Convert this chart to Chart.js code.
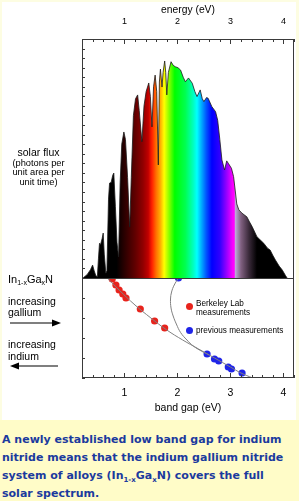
<!DOCTYPE html>
<html>
<head>
<meta charset="utf-8">
<script src="https://cdn.jsdelivr.net/npm/chart.js@4.4.1/dist/chart.umd.min.js"></script>
<style>
  html, body { margin: 0; padding: 0; }
  body {
    width: 299px; height: 501px; position: relative; overflow: hidden;
    background: #fdfde2;
    font-family: "Liberation Sans", Arial, sans-serif; color: #000;
  }
  #panel { position: absolute; left: 2px; top: 2px; width: 294px; height: 418px; background: #fff; }
  #chartBox { position: absolute; left: 0; top: 0; width: 299px; height: 422px; }
  .lbl { position: absolute; white-space: nowrap; }
  #flux { left: 0; top: 148px; width: 77px; text-align: center; font-size: 9.3px; line-height: 9.7px; }
  #flux .big { font-size: 10.5px; }
  #alloy { left: 8px; top: 272px; font-size: 11px; line-height: 14px; }
  #alloy sub { font-size: 7px; vertical-align: -2px; }
  #gallium { left: 8px; top: 296px; font-size: 10.5px; line-height: 11px; }
  #indium { left: 8px; top: 339px; font-size: 10.5px; line-height: 11.5px; }
  .arrow { position: absolute; }
  .dot { position: absolute; width: 7px; height: 7px; border-radius: 50%; }
  .legendText { position: absolute; font-size: 8.2px; line-height: 9px; white-space: nowrap; }
  #caption {
    position: absolute; left: 0; top: 420px; width: 299px; height: 81px; background: #fffcc8;
  }
  #captionText {
    position: absolute; left: 2px; top: 11px; white-space: nowrap;
    font-family: "DejaVu Sans", Verdana, sans-serif; font-weight: bold; font-size: 11px;
    line-height: 18px; color: #1b3a9e;
  }
  #captionText sub { font-size: 7px; vertical-align: -3px; line-height: 0; }
</style>
</head>
<body>
<div id="panel"></div>
<div id="chartBox"><canvas id="bandGapChart"></canvas></div>

<div class="lbl" id="flux"><span class="big">solar flux</span><br>(photons per<br>unit area per<br>unit time)</div>
<div class="lbl" id="alloy">In<sub>1-x</sub>Ga<sub>x</sub>N</div>
<div class="lbl" id="gallium">increasing<br>gallium</div>
<div class="lbl" id="indium">increasing<br>indium</div>
<svg class="arrow" style="left:8px;top:318px" width="56" height="10">
  <line x1="2" y1="5" x2="46" y2="5" stroke="#000" stroke-width="1.2"/>
  <polygon points="44,1.5 53,5 44,8.5" fill="#000"/>
</svg>
<svg class="arrow" style="left:8px;top:361px" width="56" height="10">
  <line x1="10" y1="5" x2="50" y2="5" stroke="#000" stroke-width="1.2"/>
  <polygon points="11,1.5 2,5 11,8.5" fill="#000"/>
</svg>

<div class="dot" style="left:185.5px;top:303px;background:#e8231c"></div>
<div class="legendText" style="left:196px;top:299px">Berkeley Lab<br>measurements</div>
<div class="dot" style="left:185.5px;top:327px;background:#1f24e8"></div>
<div class="legendText" style="left:196px;top:326px">previous measurements</div>

<div id="caption">
  <div id="captionText">A newly established low band gap for indium<br>nitride means that the indium gallium nitride<br>system of alloys (In<sub>1-x</sub>Ga<sub>x</sub>N) covers the full<br>solar spectrum.</div>
</div>

<script>
// ---- data ----
const spectrumEnergy = [0.22, 0.30, 0.36, 0.40, 0.43, 0.46, 0.49, 0.51, 0.53, 0.55, 0.58, 0.60, 0.62, 0.65,
  0.67, 0.70, 0.72, 0.75, 0.78, 0.80, 0.83, 0.86, 0.89, 0.92, 0.95, 0.99, 1.02, 1.06, 1.10, 1.13, 1.17,
  1.21, 1.25, 1.28, 1.33, 1.37, 1.41, 1.46, 1.49, 1.52, 1.55, 1.58, 1.61, 1.64, 1.66, 1.68, 1.71, 1.73,
  1.76, 1.78, 1.80, 1.83, 1.88, 1.92, 1.96, 2.01, 2.06, 2.11, 2.15, 2.21, 2.28, 2.33, 2.37, 2.43, 2.47,
  2.50, 2.55, 2.58, 2.65, 2.72, 2.76, 2.80, 2.84, 2.89, 2.93, 2.96, 3.02, 3.06, 3.09, 3.12, 3.16, 3.22,
  3.31, 3.36, 3.41, 3.50, 3.56, 3.63, 3.70, 3.75, 3.80, 3.85, 3.92, 3.98, 4.04, 4.07];
const spectrumFlux = [0, 1.5, 3.5, 5.4, 3, 1, 0.5, 8, 14.5, 14, 16.5, 18.8, 10, 2,
  3, 33, 39.7, 40, 43, 43.9, 30, 15, 8.8, 40, 56, 61.1, 58, 42, 21.3, 42, 68,
  75, 76.6, 70, 57, 72, 78, 81.6, 76, 63.2, 80, 84.9, 78, 47.3, 82, 87.4, 79.9, 86,
  90.8, 86, 76.6, 86, 90.5, 89, 88.4, 88, 87, 84, 82.1, 83.7, 81.5, 78, 75.9, 78.7, 75,
  73.8, 75.5, 75.2, 71.7, 69.6, 66, 58, 49.4, 45.2, 49, 48, 45.9, 42.4, 36.8, 31, 28.5, 27.1,
  25.6, 23.5, 21.5, 17.3, 16, 14.5, 12.5, 11.7, 9.5, 7.5, 5, 3.3, 1, 0];

// lower panel: band gap (eV) vs. position along the In(1-x)Ga(x)N series (0 = top)
const berkeleyGap = [0.77, 0.84, 0.90, 0.97, 1.03, 1.30, 1.57, 1.76];
const berkeleyPos = [0.01, 0.07, 0.12, 0.16, 0.20, 0.31, 0.43, 0.50];
const previousGap = [2.02, 2.56, 2.70, 2.78, 2.96, 3.02, 3.22];
const previousPos = [0.0, 0.76, 0.81, 0.83, 0.89, 0.91, 0.95];
const fitGap = [0.68, 0.90, 1.20, 1.50, 1.80, 2.10, 2.40, 2.70, 3.00, 3.20, 3.42];
const fitPos = [0, 0.12, 0.27, 0.40, 0.52, 0.62, 0.71, 0.80, 0.89, 0.95, 1.0];
const oldFitGap = [2.02, 1.94, 1.89, 1.87, 1.88, 1.92, 1.98, 2.06, 2.18, 2.30, 2.45, 2.60];
const oldFitPos = [0.0, 0.07, 0.14, 0.21, 0.30, 0.38, 0.46, 0.545, 0.62, 0.68, 0.73, 0.77];

const tickLabels = [1, 2, 3, 4];

// colour of the light across the energy axis
const spectrumStops = [
  [0.2, '#000000'], [0.85, '#000000'], [1.0, '#2a0000'], [1.2, '#600000'], [1.35, '#900000'],
  [1.45, '#c00000'], [1.52, '#ff2000'], [1.6, '#ff7000'], [1.68, '#ffb000'], [1.75, '#ffff00'],
  [1.85, '#80ff00'], [1.95, '#00ff00'], [2.15, '#00ff50'], [2.3, '#00ffc0'], [2.37, '#00ffff'],
  [2.45, '#00b0ff'], [2.55, '#0050ff'], [2.65, '#0000ff'], [2.8, '#3000ff'], [2.92, '#9000ff'],
  [3.05, '#ff00ff'], [3.075, '#ff00ff'], [3.085, '#c0b0e0'], [3.2, '#806080'], [3.35, '#3a2a3a'],
  [3.5, '#000000'], [4.2, '#000000']
];

const toPoints = (xs, ys) => xs.map((x, i) => ({ x, y: ys[i] }));

const isMajor = v => tickLabels.some(t => Math.abs(v - t) < 1e-6);
const tickText = v => {
  const t = tickLabels.find(t => Math.abs(v - t) < 1e-6);
  return t === undefined ? '' : String(t);
};

// frame, divider and inward tick marks
const frameTicks = {
  id: 'frameTicks',
  afterDatasetsDraw(chart) {
    const { ctx, chartArea, scales } = chart;
    const { left, right, top, bottom } = chartArea;
    ctx.save();
    ctx.strokeStyle = '#3a3a3a';
    ctx.lineWidth = 1;
    ctx.strokeRect(Math.round(left) + 0.5, Math.round(top) + 0.5,
      Math.round(right - left) - 1, Math.round(bottom - top) - 1);
    const yDiv = Math.round(scales.y.bottom) + 0.5;
    ctx.beginPath();
    ctx.moveTo(left, yDiv);
    ctx.lineTo(right, yDiv);
    scales.x.ticks.forEach(t => {
      const px = Math.round(scales.x.getPixelForValue(t.value)) + 0.5;
      const len = isMajor(t.value) ? 5 : 3;
      ctx.moveTo(px, bottom);
      ctx.lineTo(px, bottom - len);
    });
    scales.x2.ticks.forEach(t => {
      const px = Math.round(scales.x2.getPixelForValue(t.value)) + 0.5;
      const len = isMajor(t.value) ? 5 : 3;
      ctx.moveTo(px, top);
      ctx.lineTo(px, top + len);
    });
    [scales.y, scales.y2].forEach(s => {
      s.ticks.forEach(t => {
        const py = Math.round(s.getPixelForValue(t.value)) + 0.5;
        ctx.moveTo(left, py);
        ctx.lineTo(left + 3, py);
      });
    });
    ctx.stroke();
    ctx.restore();
  }
};

Chart.defaults.font.family = '"Liberation Sans", Arial, sans-serif';
Chart.defaults.color = '#000';

new Chart(document.getElementById('bandGapChart'), {
  type: 'line',
  data: {
    datasets: [
      {
        label: 'solar flux',
        data: toPoints(spectrumEnergy, spectrumFlux),
        xAxisID: 'x', yAxisID: 'y',
        fill: 'origin',
        borderColor: '#1a1a1a',
        borderWidth: 0.8,
        pointRadius: 0,
        tension: 0,
        clip: 0,
        backgroundColor(context) {
          const { chart } = context;
          const { ctx, chartArea, scales } = chart;
          if (!chartArea) return '#000';
          const xs = scales.x;
          const g = ctx.createLinearGradient(xs.left, 0, xs.right, 0);
          spectrumStops.forEach(([e, c]) => {
            const f = (xs.getPixelForValue(e) - xs.left) / (xs.right - xs.left);
            g.addColorStop(Math.min(1, Math.max(0, f)), c);
          });
          return g;
        }
      },
      {
        label: 'fit',
        data: toPoints(fitGap, fitPos),
        xAxisID: 'x', yAxisID: 'y2',
        borderColor: '#808080', borderWidth: 1, pointRadius: 0, tension: 0.4, clip: 0
      },
      {
        label: 'previous fit',
        data: toPoints(oldFitGap, oldFitPos),
        xAxisID: 'x', yAxisID: 'y2',
        borderColor: '#808080', borderWidth: 1, pointRadius: 0, tension: 0.4, clip: 0
      },
      {
        label: 'Berkeley Lab measurements',
        data: toPoints(berkeleyGap, berkeleyPos),
        xAxisID: 'x', yAxisID: 'y2',
        showLine: false, pointRadius: 3.6, pointBorderWidth: 0,
        pointBackgroundColor: '#e8231c', clip: 0
      },
      {
        label: 'previous measurements',
        data: toPoints(previousGap, previousPos),
        xAxisID: 'x', yAxisID: 'y2',
        showLine: false, pointRadius: 3.6, pointBorderWidth: 0,
        pointBackgroundColor: '#1f24e8', clip: 0
      }
    ]
  },
  options: {
    responsive: true,
    maintainAspectRatio: false,
    animation: false,
    events: [],
    layout: { padding: { left: 82, right: 5, top: 0, bottom: 0 } },
    plugins: { legend: { display: false }, tooltip: { enabled: false } },
    scales: {
      x: {
        type: 'linear', position: 'bottom', min: 0.2, max: 4.2,
        grid: { display: false }, border: { display: false },
        ticks: { stepSize: 0.2, autoSkip: false, maxRotation: 0, padding: 1,
                 font: { size: 10.5 }, callback: v => tickText(v) },
        title: { display: true, text: 'band gap (eV)', font: { size: 10.5 }, padding: { top: 0, bottom: 8 } },
        afterFit: s => { s.height = 44; }
      },
      x2: {
        type: 'linear', position: 'top', min: 0.2, max: 4.2,
        grid: { display: false }, border: { display: false },
        ticks: { stepSize: 0.2, autoSkip: false, maxRotation: 0, padding: 4,
                 font: { size: 9 }, callback: v => tickText(v) },
        title: { display: true, text: 'energy (eV)', font: { size: 10.3 }, padding: { top: 4, bottom: 0 } },
        afterFit: s => { s.height = 39; }
      },
      // lower panel first: left-side stacks are laid out last-declared on top
      y2: {
        type: 'linear', position: 'left', stack: 'panels', stackWeight: 100,
        min: 0, max: 1, reverse: true,
        grid: { display: false }, border: { display: false },
        ticks: { display: false, stepSize: 0.2 },
        afterFit: s => { s.width = 0; }
      },
      y: {
        type: 'linear', position: 'left', stack: 'panels', stackWeight: 239,
        min: 0, max: 100,
        grid: { display: false }, border: { display: false },
        ticks: { display: false, stepSize: 4 },
        afterFit: s => { s.width = 0; }
      }
    }
  },
  plugins: [frameTicks]
});
</script>
</body>
</html>
